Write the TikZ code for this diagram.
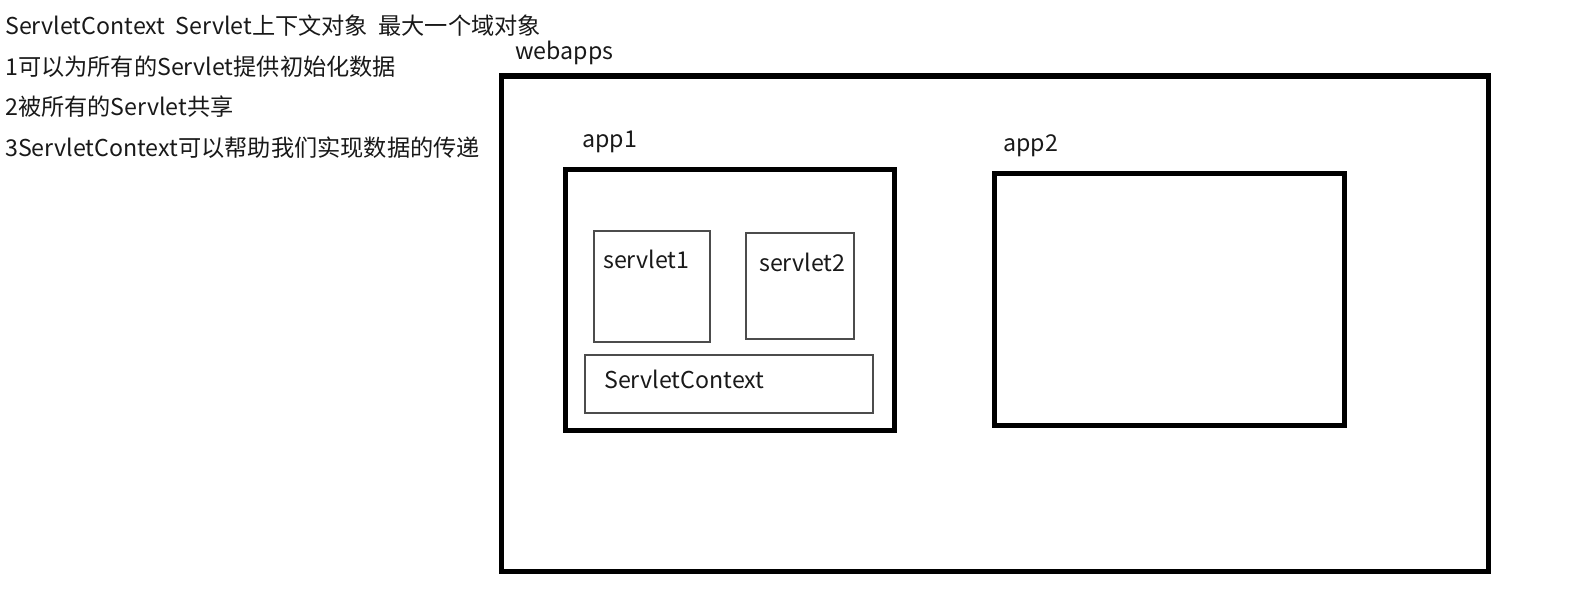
\documentclass[tikz,border=0pt]{standalone}
\usepackage{fontspec}
\setmainfont{Noto Sans CJK SC}
\usetikzlibrary{positioning}

\begin{document}
\begin{tikzpicture}[x=1pt,y=-1pt,
    txt/.style={anchor=base west,inner sep=0pt,text=black!90,font=\fontsize{23.2}{28}\selectfont},
    heavybox/.style={draw,line width=5.5pt,inner sep=0pt,outer sep=0pt,anchor=north west},
    lightbox/.style={draw=black!70,line width=1.3pt,inner sep=0pt,outer sep=0pt,anchor=north west}]
                \useasboundingbox (0,0) rectangle (1578,596);
                % notes
                \node[txt] (note0) at (5,35) {ServletContext\ \ Servlet上下文对象\ \ 最大一个域对象};
                \node[txt] (note1) at (5,76) {1可以为所有的Servlet提供初始化数据};
                \node[txt] (note2) at (5,116) {2被所有的Servlet共享};
                \node[txt] (note3) at (5,157) {3ServletContext可以帮助我们实现数据的传递};
                % containers
                \node[heavybox,minimum width=987,minimum height=495.5] (webapps) at (501.5,76) {};
                \node[heavybox,minimum width=329,minimum height=261] (app1) at (565.5,169.5) {};
                \node[heavybox,minimum width=350,minimum height=252] (app2) at (994.5,173.5) {};
                \node[lightbox,minimum width=116,minimum height=111] (servlet1) at (594,231) {};
                \node[lightbox,minimum width=108,minimum height=106] (servlet2) at (746,233) {};
                \node[lightbox,minimum width=288,minimum height=58] (context) at (585,355) {};
                % labels
                \node[txt] (webappsname) at (515,60) {webapps};
                \node[txt] (app1name) at (582,148) {app1};
                \node[txt] (app2name) at (1003,152) {app2};
                \node[txt] (servlet1name) at (603,268) {servlet1};
                \node[txt] (servlet2name) at (759,271) {servlet2};
                \node[txt] (contextname) at (604,388) {ServletContext};
            \end{tikzpicture}
\end{document}
